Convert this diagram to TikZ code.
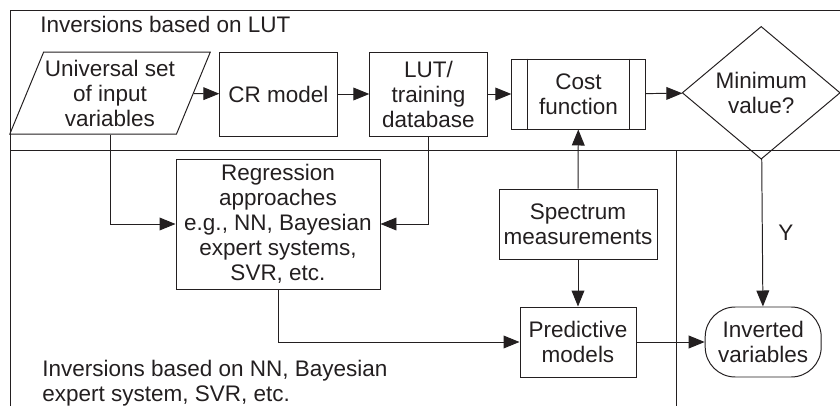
\documentclass[tikz,border=0pt]{standalone}
\usepackage{fontspec}
\setmainfont{Liberation Sans}
\usepackage{tikz}
\usetikzlibrary{calc}
\usetikzlibrary{arrows.meta}
\usetikzlibrary{shapes}
\usetikzlibrary{shapes.geometric}
\definecolor{ink}{HTML}{231F20}
\tikzset{>={Triangle[length=0.4cm,width=0.32cm]}}
\tikzset{box/.style = {rectangle, draw=ink, line width=0.7pt, align=center, inner sep=2pt}}
\tikzset{iobox/.style = {trapezium, trapezium left angle=64, trapezium right angle=116, trapezium stretches=true, draw=ink, line width=0.7pt, align=center, inner sep=1pt}}
\tikzset{decbox/.style = {diamond, draw=ink, line width=0.7pt, align=center, inner sep=0pt}}
\tikzset{endbox/.style = {rectangle, rounded corners=0.75cm, draw=ink, line width=0.7pt, align=center, inner sep=2pt}}
\tikzset{arr/.style = {->, draw=ink, line width=0.7pt}}

\begin{document}
\begin{tikzpicture}[font=\fontsize{16}{17.8}\selectfont, text=ink]
\useasboundingbox (0,0) rectangle (21,10.15);
% frames of the two inversion groups
\draw [draw=ink, line width=0.7pt] (0.25,0) -- (0.25,9.9) -- (21,9.9);
\draw [draw=ink, line width=0.7pt] (0.25,6.4) -- (21,6.4);
\draw [draw=ink, line width=0.7pt] (16.9,6.4) -- (16.9,0);
\node [anchor=base west, inner sep=0pt] (lutlabel) at (1.0,9.325) {Inversions based on LUT};
\node [anchor=north west, inner sep=0pt, align=left] (nnlabel) at (1.05,1.15) {Inversions based on NN, Bayesian\\expert system, SVR, etc.};

\node [iobox, minimum width=4.85cm, minimum height=2.05cm] (univ) at (2.75,7.82) {Universal set\\of input\\variables};
\node [box, minimum width=2.93cm, minimum height=2.1cm] (cr) at (6.96,7.8) {CR model};
\node [box, minimum width=2.93cm, minimum height=2.1cm] (lut) at (10.71,7.8) {LUT/\\training\\database};
\node [box, minimum width=3.33cm, minimum height=1.75cm] (cost) at (14.46,7.8) {Cost\\function};
\draw [draw=ink, line width=0.7pt] ([xshift=0.4cm]cost.north west) -- ([xshift=0.4cm]cost.south west);
\draw [draw=ink, line width=0.7pt] ([xshift=-0.4cm]cost.north east) -- ([xshift=-0.4cm]cost.south east);
\node [decbox, minimum width=3.95cm, minimum height=2.7cm] (minv) at (19.03,7.83) {Minimum\\value?};

\node [box, minimum width=5.1cm, minimum height=3.25cm] (regr) at (6.95,4.55) {Regression\\approaches\\e.g., NN, Bayesian\\expert systems,\\SVR, etc.};
\node [box, minimum width=3.95cm, minimum height=1.75cm] (spec) at (14.45,4.55) {Spectrum\\measurements};
\node [box, minimum width=2.9cm, minimum height=1.75cm] (pred) at (14.45,1.6) {Predictive\\models};
\node [endbox, minimum width=2.9cm, minimum height=1.75cm] (inv) at (19.08,1.6) {Inverted\\variables};

\draw [arr] (univ) -- (cr);
\draw [arr] (cr) -- (lut);
\draw [arr] (lut) -- (cost);
\draw [arr] (cost) -- (minv);
\draw [arr] (minv) -- node[pos=0.5, right=0.27cm] {Y} (inv);
\draw [arr] (univ.south) |- (regr.west);
\draw [arr] (lut.south) |- (regr.east);
\draw [arr] (regr.south) |- (pred.west);
\draw [arr] (spec) -- (cost);
\draw [arr] (spec) -- (pred);
\draw [arr] (pred) -- (inv);
\end{tikzpicture}
\end{document}
